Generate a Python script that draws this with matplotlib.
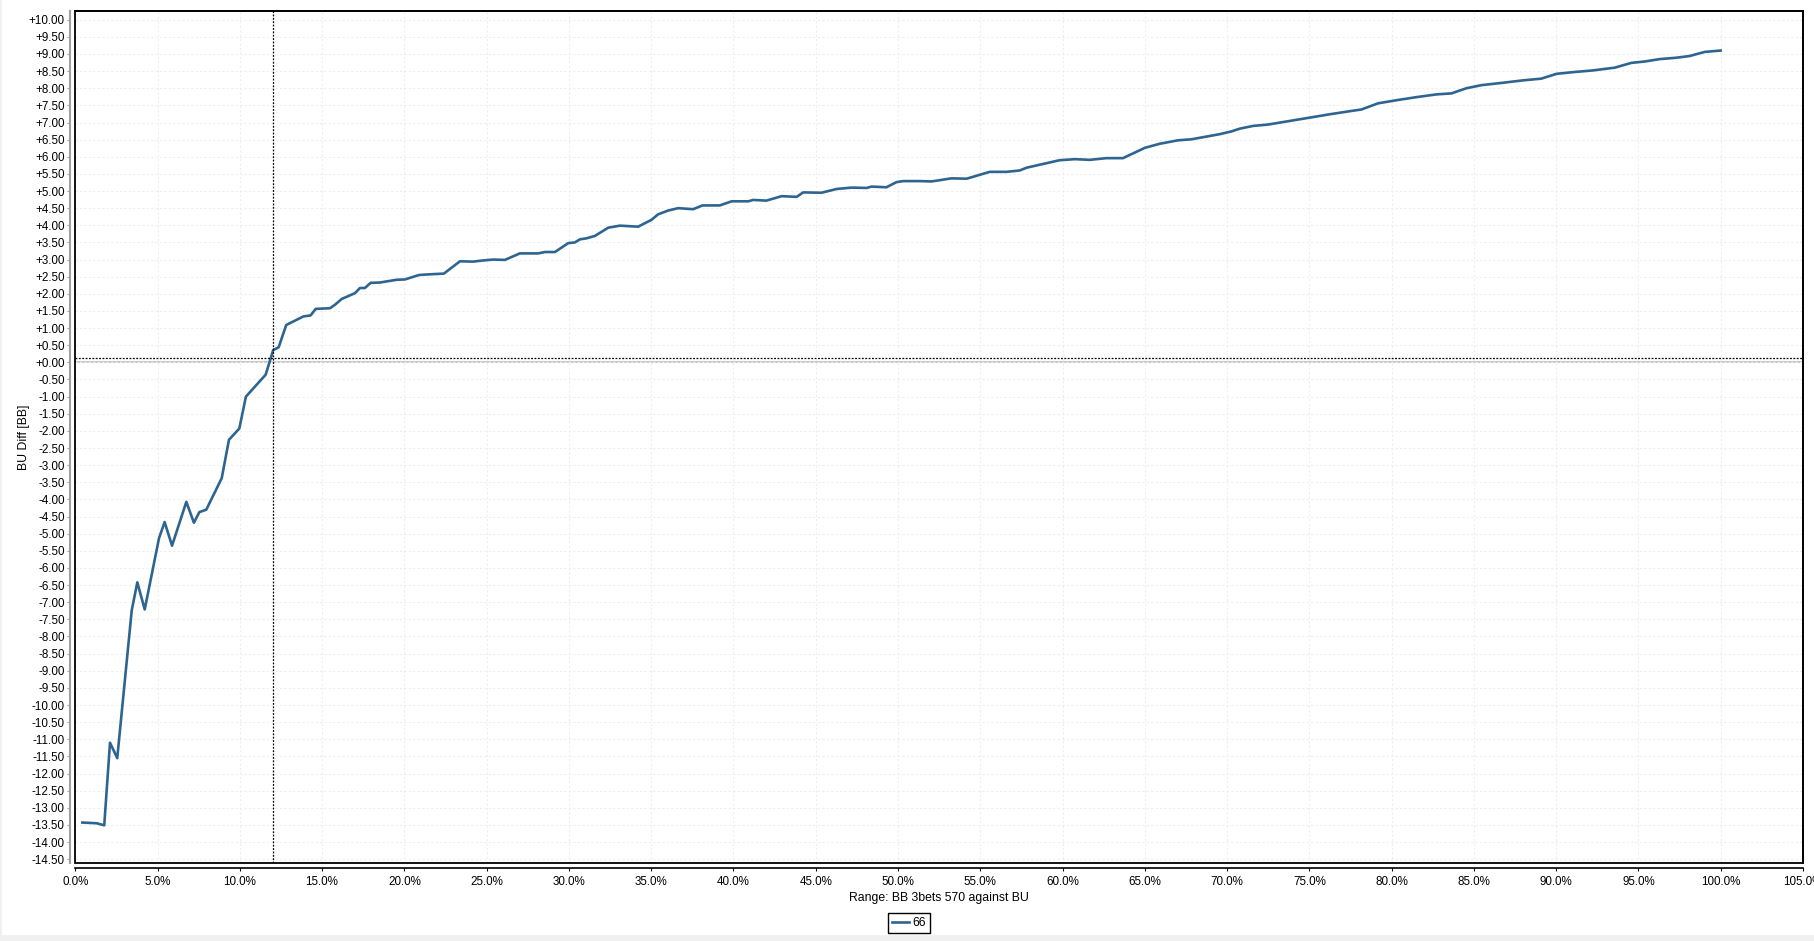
import matplotlib.pyplot as plt
import matplotlib.patches as mpatches
import numpy as np

plt.rcParams['font.family'] = ['Liberation Sans', 'DejaVu Sans']

# range % vs BU diff in BB (hand 66)
range_pct = [0.43, 1.30, 1.76, 2.11, 2.55, 3.43, 3.77, 4.22, 5.09, 5.43, 5.88,
             6.75, 7.21, 7.54, 7.96, 8.90, 9.34, 9.97, 10.37, 11.57, 12.03, 12.36,
             12.82, 13.86, 14.30, 14.61, 15.48, 15.78, 16.19, 17.00, 17.30, 17.60,
             17.95, 18.51, 19.53, 20.03, 20.90, 21.55, 22.40, 23.38, 24.19, 24.69,
             25.40, 26.11, 27.02, 28.13, 28.54, 29.15, 29.96, 30.36, 30.67, 31.07,
             31.58, 32.39, 33.10, 34.21, 35.02, 35.42, 36.03, 36.64, 37.55, 38.12,
             39.17, 39.89, 40.90, 41.20, 42.00, 42.93, 43.84, 44.24, 45.35, 46.27,
             47.18, 48.09, 48.40, 49.30, 49.91, 50.31, 51.33, 52.04, 53.25, 54.17,
             55.58, 56.60, 57.40, 57.81, 58.82, 59.83, 60.75, 61.66, 62.67, 63.68,
             65.00, 65.91, 67.02, 67.84, 69.56, 70.27, 70.77, 71.58, 72.49, 74.62,
             76.24, 77.46, 78.17, 79.18, 80.29, 81.51, 82.72, 83.64, 84.55, 85.46,
             86.77, 87.99, 89.10, 90.02, 91.03, 92.24, 93.56, 94.57, 95.38, 96.29,
             97.30, 98.11, 99.03, 100.0]
bu_diff = [-13.43, -13.45, -13.51, -11.10, -11.55, -7.24, -6.42, -7.21, -5.13, -4.66, -5.35,
           -4.07, -4.68, -4.37, -4.30, -3.38, -2.26, -1.93, -1.00, -0.36, 0.36, 0.44,
           1.09, 1.34, 1.37, 1.56, 1.58, 1.68, 1.85, 2.02, 2.17, 2.17,
           2.32, 2.33, 2.41, 2.42, 2.55, 2.57, 2.59, 2.95, 2.94, 2.97,
           3.00, 2.99, 3.18, 3.18, 3.22, 3.22, 3.48, 3.50, 3.59, 3.62,
           3.69, 3.93, 3.99, 3.96, 4.16, 4.32, 4.43, 4.50, 4.47, 4.58,
           4.58, 4.70, 4.70, 4.74, 4.72, 4.85, 4.83, 4.96, 4.95, 5.06,
           5.10, 5.09, 5.13, 5.11, 5.26, 5.29, 5.29, 5.28, 5.37, 5.36,
           5.56, 5.56, 5.60, 5.68, 5.79, 5.90, 5.93, 5.91, 5.96, 5.96,
           6.26, 6.38, 6.48, 6.51, 6.66, 6.74, 6.82, 6.90, 6.94, 7.11,
           7.24, 7.33, 7.38, 7.56, 7.65, 7.74, 7.82, 7.85, 8.00, 8.09,
           8.16, 8.23, 8.28, 8.42, 8.47, 8.52, 8.60, 8.74, 8.78, 8.85,
           8.89, 8.94, 9.06, 9.10]
cross_x = 12.0
cross_y = 0.12

fig = plt.figure(figsize=(18.14, 9.41), dpi=100)
# light gray window border
fig.patches.append(mpatches.Rectangle((0, 0), 1, 1, transform=fig.transFigure,
                                      color='#f0f0f0', zorder=-2))
fig.patches.append(mpatches.Rectangle((2 / 1814, 7 / 941), 1, 1, transform=fig.transFigure,
                                      color='white', zorder=-1))

ax = fig.add_axes([0.0415, 0.0829, 0.9524, 0.9049])

ax.grid(True, color='#eeeeee', linestyle=(0, (2, 2)), linewidth=0.8)
ax.axhline(0, color='#c8c8c8', linewidth=1.5, zorder=1)
ax.plot(range_pct, bu_diff, color='#2e6590', linewidth=1.9, label='66', zorder=3)
ax.axvline(cross_x, color='black', linestyle=(0, (1.5, 1.2)), linewidth=0.9, zorder=4)
ax.axhline(cross_y, color='black', linestyle=(0, (1.5, 1.2)), linewidth=0.9, zorder=4)

ax.set_xlim(0, 105)
ax.set_ylim(-14.61, 10.24)
xt = np.arange(0, 105.1, 5)
ax.set_xticks(xt)
ax.set_xticklabels([f'{v:.1f}%' for v in xt])
yt = np.arange(-14.5, 10.01, 0.5)
ax.set_yticks(yt)
ax.set_yticklabels([f'{v:+.2f}' if abs(v) > 1e-9 else '+0.00' for v in yt])
ax.tick_params(axis='both', labelsize=8.4, length=2.5, pad=1.5)
ax.tick_params(axis='x', pad=3)
ax.tick_params(axis='y', color='#a0a0a0')

ax.spines['left'].set_position(('outward', 3.6))
ax.spines['left'].set_color('#a0a0a0')
ax.spines['left'].set_linewidth(1.5)
ax.spines['bottom'].set_position(('outward', 3.6))
ax.spines['bottom'].set_linewidth(1.2)
ax.spines['top'].set_linewidth(1.2)
ax.spines['right'].set_linewidth(1.2)
ax.add_patch(mpatches.Rectangle((0, 0), 1, 1, transform=ax.transAxes, fill=False,
                                edgecolor='black', linewidth=1.3, clip_on=False, zorder=5))

ax.set_xlabel('Range: BB 3bets 570 against BU', fontsize=8.8, labelpad=3)
ax.set_ylabel('BU Diff [BB]', fontsize=8.8, labelpad=-1)

leg = ax.legend(loc='center', bbox_to_anchor=(909 / 1814, 1 - 923 / 941),
                bbox_transform=fig.transFigure, fontsize=8.8, fancybox=False,
                edgecolor='black', framealpha=1, handlelength=1.4, handletextpad=0.3,
                borderpad=0.35, borderaxespad=0)
leg.get_frame().set_linewidth(1.0)

fig.savefig('out.png', dpi=100)
